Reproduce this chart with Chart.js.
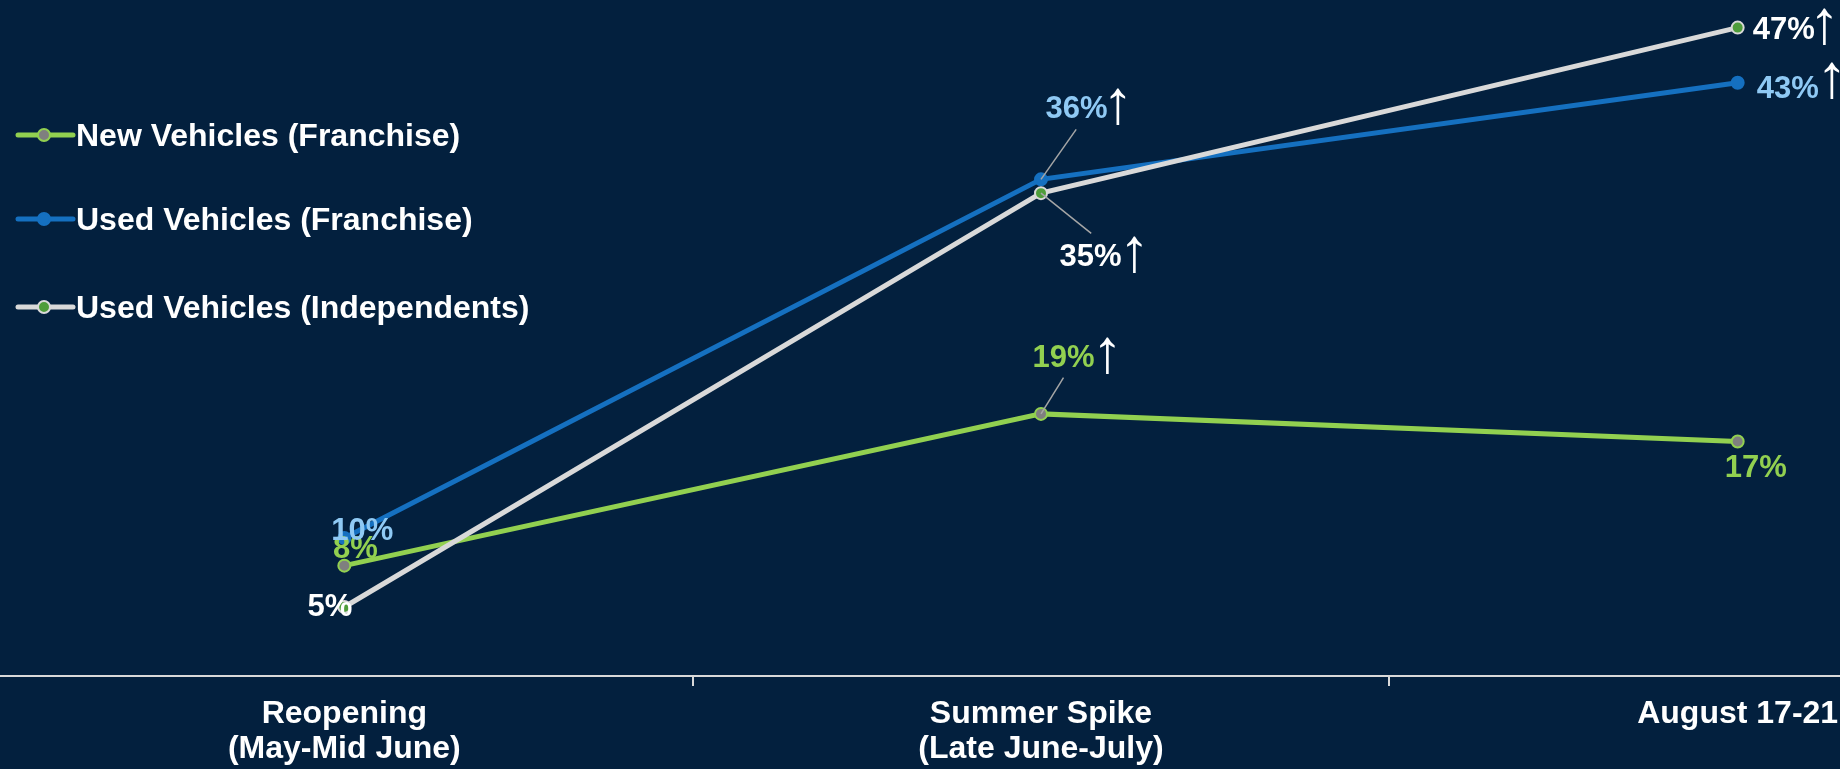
<!DOCTYPE html>
<html><head><meta charset="utf-8">
<style>
html,body{margin:0;padding:0;background:#03203e;overflow:hidden;width:1840px;height:769px;}
#wrap{position:absolute;left:-4px;top:0;}
canvas{display:block;}
</style>
<script src="https://cdn.jsdelivr.net/npm/chart.js@4.4.0/dist/chart.umd.min.js"></script>
</head><body>
<div id="wrap"><canvas id="c" width="2090" height="769"></canvas></div>
<script>
// ---- data ----
const categories = [["Reopening","(May-Mid June)"],["Summer Spike","(Late June-July)"],"August 17-21"];
const seriesNames = ["New Vehicles (Franchise)","Used Vehicles (Franchise)","Used Vehicles (Independents)"];
const newFranchise = [8,19,17];
const usedFranchise = [10,36,43];
const usedIndependents = [5,35,47];
const newUp = [false,true,false];
const usedFranchiseUp = [false,true,true];
const usedIndependentsUp = [false,true,true];

// ---- styles / positions ----
const SHIFT = 4; // canvas is shifted left by this many px
const FONT = '"Liberation Sans", Arial, sans-serif';
const LINE_COLORS = ['#92d050','#1570c0','#d9d9d9'];
const LABEL_COLORS = ['#92d050','#8fc9f4','#ffffff'];
const POINT_FILL = ['#7f7f7f','#1570c0','#4e9d3a'];
const POINT_BORDER = ['#92d050','#1570c0','#d9d9d9'];
const DRAW_ORDER = [3,2,1];
const LABEL_POS = [
  [[11,-8],[22.5,-47.3],[18,36]],
  [[18,2],[35.5,-61],[50,15]],
  [[-14.5,9],[49.5,72.7],[46,11.3]]
];
const ARROW_POS = [
  [null,[66.5,-40],null],
  [null,[77,-54],[94.3,16]],
  [null,[93.5,80],[86.8,17]]
];
const LEADERS = [
  [null,[22.5,-36.3],null],
  [null,[35.2,-50],null],
  [null,[50.2,40.3],null]
];
const LEGEND_Y = [146,230,318];

const seriesData = [newFranchise, usedFranchise, usedIndependents];
const seriesUp = [newUp, usedFranchiseUp, usedIndependentsUp];

const overlay = {
  id:'overlay',
  afterDatasetsDraw(chart){
    const ctx = chart.ctx;
    ctx.save();
    // leader lines
    ctx.strokeStyle = '#a6a6a6';
    ctx.lineWidth = 1.5;
    seriesData.forEach((d,si)=>{
      const meta = chart.getDatasetMeta(si);
      d.forEach((v,pi)=>{
        const L = LEADERS[si][pi];
        if(!L) return;
        const el = meta.data[pi];
        ctx.beginPath();
        ctx.moveTo(el.x+L[0], el.y+L[1]);
        ctx.lineTo(el.x, el.y);
        ctx.stroke();
      });
    });
    // value labels + arrows
    seriesData.forEach((d,si)=>{
      const meta = chart.getDatasetMeta(si);
      d.forEach((v,pi)=>{
        const el = meta.data[pi];
        const p = LABEL_POS[si][pi];
        ctx.font = 'bold 31px '+FONT;
        ctx.textAlign = 'center';
        ctx.textBaseline = 'alphabetic';
        ctx.fillStyle = LABEL_COLORS[si];
        ctx.fillText(v+'%', el.x+p[0], el.y+p[1]);
        if(seriesUp[si][pi] && ARROW_POS[si][pi]){
          const a = ARROW_POS[si][pi];
          ctx.font = '100px '+FONT;
          const m = ctx.measureText('\u2191');
          const h = m.actualBoundingBoxAscent + m.actualBoundingBoxDescent;
          const size = 100*37/h;
          ctx.font = size+'px '+FONT;
          const m2 = ctx.measureText('\u2191');
          ctx.fillStyle = '#ffffff';
          ctx.textAlign = 'center';
          ctx.fillText('\u2191', el.x+a[0], el.y+a[1]-m2.actualBoundingBoxDescent);
        }
      });
    });
    // legend
    ctx.textAlign = 'left';
    ctx.textBaseline = 'alphabetic';
    seriesNames.forEach((name,i)=>{
      const y = LEGEND_Y[i];
      const cy = y - 11;
      ctx.strokeStyle = LINE_COLORS[i];
      ctx.lineWidth = 5;
      ctx.lineCap = 'round';
      ctx.beginPath();
      ctx.moveTo(18+SHIFT, cy); ctx.lineTo(73+SHIFT, cy); ctx.stroke();
      ctx.beginPath();
      ctx.arc(44+SHIFT, cy, 6, 0, Math.PI*2);
      ctx.fillStyle = POINT_FILL[i]; ctx.fill();
      ctx.lineWidth = 2; ctx.strokeStyle = POINT_BORDER[i]; ctx.stroke();
      ctx.font = 'bold 32px '+FONT;
      ctx.fillStyle = '#ffffff';
      ctx.fillText(name, 76+SHIFT, y);
    });
    ctx.restore();
  }
};

new Chart(document.getElementById('c'), {
  type:'line',
  data:{
    labels: categories,
    datasets: seriesNames.map((name,i)=>({
      label:name,
      data:seriesData[i],
      borderColor:LINE_COLORS[i],
      backgroundColor:POINT_FILL[i],
      pointBackgroundColor:POINT_FILL[i],
      pointBorderColor:POINT_BORDER[i],
      pointBorderWidth:2,
      pointRadius:6,
      borderWidth:5,
      tension:0,
      order:DRAW_ORDER[i],
      clip:false
    }))
  },
  options:{
    responsive:false,
    animation:false,
    devicePixelRatio:1,
    layout:{padding:0, autoPadding:false},
    plugins:{legend:{display:false}, tooltip:{enabled:false}},
    scales:{
      x:{
        offset:true,
        grid:{offset:true, drawOnChartArea:false, drawTicks:true, tickLength:10, color:'#d9d9d9', lineWidth:2},
        border:{display:true, color:'#d9d9d9', width:2},
        ticks:{color:'#ffffff', font:{family:FONT, size:32, weight:'bold', lineHeight:1.1}, padding:10.5, autoSkip:false, maxRotation:0, minRotation:0},
        afterFit(s){ s.height = 93; }
      },
      y:{display:false, min:0, max:49}
    }
  },
  plugins:[overlay]
});
</script>
</body></html>
